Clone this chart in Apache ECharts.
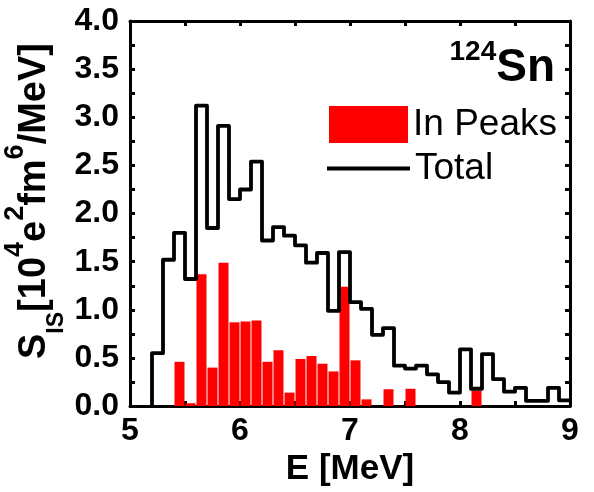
<!DOCTYPE html>
<html>
<head>
<meta charset="utf-8">
<script src="https://cdn.jsdelivr.net/npm/echarts@6/dist/echarts.min.js"></script>
<style>
  html, body { margin: 0; padding: 0; background: #ffffff; }
  #chart { width: 594px; height: 492px; }
</style>
</head>
<body>
<div id="chart"></div>
<script>
// 124Sn isoscalar strength distribution, 0.1 MeV bins
const binWidth = 0.1;

// Total strength: bins starting at these energies (MeV)
const totalBinStart = [5.2, 5.3, 5.4, 5.5, 5.6, 5.7, 5.8, 5.9, 6.0, 6.1,
                       6.2, 6.3, 6.4, 6.5, 6.6, 6.7, 6.8, 6.9, 7.0, 7.1,
                       7.2, 7.3, 7.4, 7.5, 7.6, 7.7, 7.8, 7.9, 8.0, 8.1,
                       8.2, 8.3, 8.4, 8.5, 8.6, 8.7, 8.8, 8.9];
const totalValues   = [0.55, 1.52, 1.80, 1.32, 3.12, 1.85, 2.91, 2.15, 2.25, 2.54,
                       1.72, 1.86, 1.77, 1.67, 1.49, 1.59, 0.99, 1.60, 1.08, 1.01,
                       0.74, 0.81, 0.42, 0.39, 0.42, 0.33, 0.25, 0.14, 0.59, 0.18,
                       0.54, 0.28, 0.15, 0.19, 0.055, 0.055, 0.19, 0.06];

// Strength contained in resolved peaks
const peakBinStart = [5.4, 5.5, 5.6, 5.7, 5.8, 5.9, 6.0, 6.1, 6.2, 6.3,
                      6.4, 6.5, 6.6, 6.7, 6.8, 6.9, 7.0, 7.1, 7.3, 7.5, 8.1];
const peakValues   = [0.46, 0.03, 1.37, 0.40, 1.49, 0.87, 0.88, 0.89, 0.46, 0.58,
                      0.14, 0.49, 0.52, 0.44, 0.36, 1.24, 0.475, 0.07, 0.175, 0.18, 0.16];

const xTicks = { min: 5, max: 9, step: 1 };
const yTicks = { min: 0, max: 4, step: 0.5 };

// Step outline: start at zero, then one point per bin left edge, closing at the last edge
const totalLine = [[totalBinStart[0], 0]];
totalBinStart.forEach((e, i) => totalLine.push([e, totalValues[i]]));
totalLine.push([totalBinStart[totalBinStart.length - 1] + binWidth, totalValues[totalValues.length - 1]]);

const peakBars = peakBinStart.map((e, i) => [e + binWidth / 2, peakValues[i]]);

const FONT = '"Liberation Sans", Arial, Helvetica, sans-serif';
const axisLine = { show: true, onZero: false, lineStyle: { color: '#000', width: 3 } };
const tick = { show: true, inside: true, length: 5, lineStyle: { color: '#000', width: 3 } };
const minor = { show: true, splitNumber: 2, length: 5, lineStyle: { color: '#000', width: 3 } };

const chart = echarts.init(document.getElementById('chart'), null, { renderer: 'canvas' });

chart.setOption({
  animation: false,
  backgroundColor: '#ffffff',
  grid: { left: 130, right: 24, top: 21, bottom: 84 },
  xAxis: [
    {
      type: 'value', position: 'bottom',
      min: xTicks.min, max: xTicks.max, interval: xTicks.step,
      axisLine: axisLine, axisTick: tick, minorTick: minor,
      splitLine: { show: false },
      axisLabel: { margin: 9, color: '#000', fontFamily: FONT, fontWeight: 'bold', fontSize: 32 },
      name: 'E [MeV]', nameLocation: 'middle', nameGap: 44,
      nameTextStyle: { color: '#000', fontFamily: FONT, fontWeight: 'bold', fontSize: 35 }
    },
    {
      type: 'value', position: 'top',
      min: xTicks.min, max: xTicks.max, interval: xTicks.step,
      axisLine: axisLine, axisTick: tick, minorTick: minor,
      splitLine: { show: false }, axisLabel: { show: false }
    }
  ],
  yAxis: [
    {
      type: 'value', position: 'left',
      min: yTicks.min, max: yTicks.max, interval: yTicks.step,
      axisLine: axisLine, axisTick: tick, minorTick: minor,
      splitLine: { show: false },
      axisLabel: {
        margin: 11, color: '#000', fontFamily: FONT, fontWeight: 'bold', fontSize: 32,
        formatter: v => v.toFixed(1)
      }
    },
    {
      type: 'value', position: 'right',
      min: yTicks.min, max: yTicks.max, interval: yTicks.step,
      axisLine: axisLine, axisTick: tick, minorTick: minor,
      splitLine: { show: false }, axisLabel: { show: false }
    }
  ],
  legend: [
    {
      data: ['In Peaks'], left: 329, top: 106, padding: 0,
      icon: 'rect', itemWidth: 79, itemHeight: 37, itemGap: 0,
      textStyle: { color: '#000', fontFamily: FONT, fontSize: 37 }
    },
    {
      data: ['Total'], left: 327, top: 150, padding: 0,
      icon: 'rect', itemWidth: 83, itemHeight: 4, itemGap: 0,
      itemStyle: { color: '#000' },
      textStyle: { color: '#000', fontFamily: FONT, fontSize: 37 }
    }
  ],
  series: [
    {
      name: 'In Peaks', type: 'bar',
      xAxisIndex: 0, yAxisIndex: 0,
      barWidth: 10,
      itemStyle: { color: '#ff0000' },
      data: peakBars
    },
    {
      name: 'Total', type: 'line',
      xAxisIndex: 0, yAxisIndex: 0,
      step: 'end', symbol: 'none', showSymbol: false,
      lineStyle: { color: '#000', width: 3.8, join: 'round', cap: 'round' },
      itemStyle: { color: '#000' },
      data: totalLine
    }
  ],
  graphic: [
    {
      type: 'text', x: 35, y: 201, rotation: Math.PI / 2,
      style: {
        text: '{m|S}{sub|IS}{m|[10}{sup|4}{m|e}{sup|2}{m|fm}{sup|6}{m|/MeV]}',
        align: 'center', verticalAlign: 'middle',
        fill: '#000', fontFamily: FONT, fontWeight: 'bold', fontSize: 38,
        rich: {
          m:   { fontSize: 38, lineHeight: 66, verticalAlign: 'middle', fontWeight: 'bold', fontFamily: FONT, fill: '#000' },
          sup: { fontSize: 27, lineHeight: 46, verticalAlign: 'top', fontWeight: 'bold', fontFamily: FONT, fill: '#000' },
          sub: { fontSize: 23, lineHeight: 23, verticalAlign: 'bottom', fontWeight: 'bold', fontFamily: FONT, fill: '#000' }
        }
      }
    },
    {
      type: 'text', x: 555, y: 68,
      style: {
        text: '{sup|124}{big|Sn}',
        align: 'right', verticalAlign: 'middle',
        fill: '#000', fontFamily: FONT, fontWeight: 'bold', fontSize: 46,
        rich: {
          big: { fontSize: 46, lineHeight: 60, verticalAlign: 'middle', fontWeight: 'bold', fontFamily: FONT, fill: '#000' },
          sup: { fontSize: 28, lineHeight: 22, verticalAlign: 'top', fontWeight: 'bold', fontFamily: FONT, fill: '#000' }
        }
      }
    }
  ]
});
</script>
</body>
</html>
